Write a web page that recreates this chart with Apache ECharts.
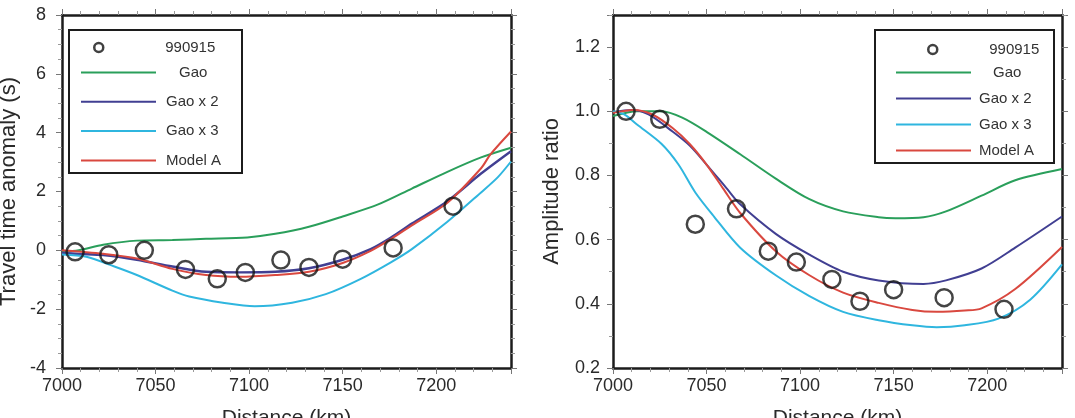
<!DOCTYPE html>
<html>
<head>
<meta charset="utf-8">
<script src="https://cdn.jsdelivr.net/npm/echarts@6/dist/echarts.min.js"></script>
<style>
  html, body { margin: 0; padding: 0; background: #fff; }
  #chart { width: 1075px; height: 418px; }
</style>
</head>
<body>
<div id="chart"></div>
<script>
  // observed points (990915), same distances in both panels
  const obsX = [7007, 7025, 7044, 7066, 7083, 7098, 7117, 7132, 7150, 7177, 7209]
  const travelObs = [-0.05, -0.15, 0.0, -0.65, -0.97, -0.75, -0.33, -0.58, -0.3, 0.08, 1.5]
  const ampObs = [1.0, 0.975, 0.648, 0.696, 0.564, 0.53, 0.476, 0.408, 0.444, 0.419, 0.383]

  // travel time anomaly curves (left panel)
  const ttGaoX = [7000, 7009, 7022, 7040, 7059, 7077, 7099, 7114, 7132, 7150, 7169, 7187, 7206, 7224, 7240]
  const ttGaoY = [-0.05, 0, 0.19, 0.33, 0.35, 0.39, 0.44, 0.56, 0.8, 1.15, 1.56, 2.1, 2.67, 3.16, 3.49]
  const ttGao2X = [7000, 7009, 7022, 7040, 7059, 7077, 7095, 7114, 7132, 7150, 7165, 7176, 7187, 7206, 7224, 7240]
  const ttGao2Y = [-0.08, -0.12, -0.16, -0.32, -0.55, -0.73, -0.75, -0.73, -0.61, -0.32, 0.04, 0.44, 0.91, 1.67, 2.61, 3.37]
  const ttGao3X = [7000, 7013, 7028, 7040, 7059, 7068, 7086, 7103, 7123, 7141, 7160, 7176, 7187, 7206, 7224, 7233, 7240]
  const ttGao3Y = [-0.14, -0.22, -0.55, -0.84, -1.37, -1.57, -1.78, -1.9, -1.78, -1.49, -0.96, -0.4, 0.04, 0.97, 1.97, 2.49, 3.02]
  const ttModelX = [7000, 7022, 7040, 7059, 7077, 7095, 7114, 7132, 7150, 7165, 7176, 7187, 7206, 7224, 7229, 7240]
  const ttModelY = [0, -0.12, -0.28, -0.63, -0.84, -0.9, -0.84, -0.73, -0.43, -0.02, 0.39, 0.85, 1.62, 2.79, 3.26, 4.04]

  // amplitude ratio curves (right panel)
  const arGaoX = [7000, 7013, 7026, 7037, 7050, 7068, 7087, 7105, 7123, 7142, 7151, 7166, 7178, 7197, 7215, 7240]
  const arGaoY = [0.985, 1.0, 1.0, 0.98, 0.936, 0.866, 0.79, 0.726, 0.688, 0.67, 0.667, 0.67, 0.688, 0.737, 0.785, 0.82]
  const arGao2X = [7000, 7010, 7019, 7032, 7041, 7050, 7061, 7068, 7087, 7105, 7123, 7142, 7166, 7178, 7197, 7215, 7240]
  const arGao2Y = [0.997, 1.004, 0.99, 0.936, 0.893, 0.834, 0.758, 0.71, 0.618, 0.553, 0.5, 0.473, 0.462, 0.473, 0.51, 0.575, 0.672]
  const arGao3X = [7000, 7006, 7013, 7026, 7035, 7044, 7054, 7068, 7087, 7105, 7123, 7142, 7160, 7173, 7188, 7206, 7223, 7240]
  const arGao3Y = [1.0, 0.99, 0.958, 0.898, 0.834, 0.747, 0.672, 0.575, 0.489, 0.424, 0.375, 0.349, 0.333, 0.327, 0.333, 0.354, 0.413, 0.523]
  const arModelX = [7000, 7011, 7021, 7032, 7041, 7050, 7059, 7068, 7087, 7105, 7123, 7142, 7160, 7173, 7188, 7197, 7215, 7240]
  const arModelY = [0.995, 1.004, 0.99, 0.947, 0.898, 0.834, 0.758, 0.683, 0.564, 0.489, 0.435, 0.403, 0.381, 0.375, 0.379, 0.386, 0.446, 0.577]

  const lineNames = ['Gao', 'Gao x 2', 'Gao x 3', 'Model A']
  const obsName = '990915'

  const colors = {
    'Gao': '#2a9f5b',
    'Gao x 2': '#413f92',
    'Gao x 3': '#2fb6df',
    'Model A': '#d9483f'
  }
  const font = 'Liberation Sans, Arial, sans-serif'
  const frame = '#1c1c1c'

  const zip = (xs, ys) => xs.map((x, i) => [x, ys[i]])

  function xAxes(grid) {
    const base = {
      type: 'value', gridIndex: grid, min: 7000, max: 7240, interval: 50,
      axisLine: { show: true, onZero: false, lineStyle: { color: frame, width: 2.5 } },
      axisTick: { show: true, length: 6, lineStyle: { color: '#777', width: 1 } },
      minorTick: { show: true, splitNumber: 5, length: 4, lineStyle: { color: '#999' } },
      splitLine: { show: false }
    }
    return [
      Object.assign({}, base, {
        position: 'bottom',
        name: 'Distance (km)', nameLocation: 'middle', nameGap: 40,
        nameTextStyle: { fontSize: 21, color: '#2a2a2a', fontFamily: font },
        axisLabel: { fontSize: 18, color: '#2a2a2a', fontFamily: font, margin: 9, showMaxLabel: false, formatter: v => String(v) }
      }),
      Object.assign({}, base, { position: 'top', axisLabel: { show: false } })
    ]
  }

  function yAxes(grid, min, max, interval, minorSplit, name, nameGap, labelMargin, fmt) {
    const base = {
      type: 'value', gridIndex: grid, min: min, max: max, interval: interval,
      axisLine: { show: true, onZero: false, lineStyle: { color: frame, width: 2.5 } },
      axisTick: { show: true, length: 6, lineStyle: { color: '#777', width: 1 } },
      minorTick: { show: true, splitNumber: minorSplit, length: 4, lineStyle: { color: '#999' } },
      splitLine: { show: false }
    }
    return [
      Object.assign({}, base, {
        position: 'left',
        name: name, nameLocation: 'middle', nameGap: nameGap,
        nameTextStyle: { fontSize: 22, color: '#2a2a2a', fontFamily: font },
        axisLabel: { fontSize: 18, color: '#2a2a2a', fontFamily: font, margin: labelMargin, showMaxLabel: min === -4, formatter: fmt }
      }),
      Object.assign({}, base, { position: 'right', axisLabel: { show: false } })
    ]
  }

  function lineSeries(name, data, xi, yi, width) {
    return {
      name: name, type: 'line', xAxisIndex: xi, yAxisIndex: yi,
      data: data, showSymbol: false, symbol: 'none',
      smooth: 0.3,
      lineStyle: { color: colors[name], width: width || 2 },
      itemStyle: { color: colors[name] },
      z: 3
    }
  }

  function obsSeries(data, xi, yi) {
    return {
      name: obsName, type: 'scatter', xAxisIndex: xi, yAxisIndex: yi,
      data: data, symbol: 'circle', symbolSize: 17,
      itemStyle: { color: 'rgba(255,255,255,0)', borderColor: '#151515', borderWidth: 2.5 },
      z: 5
    }
  }

  function legends(obsLeft, obsTop, obsPad, lineLeft, lineTop, gap, gaoPad, textPad) {
    return [{
      orient: 'vertical', left: obsLeft, top: obsTop, padding: 0,
      itemWidth: 9, itemHeight: 9, selectedMode: false, z: 10,
      data: [{ name: obsName, icon: 'circle', itemStyle: { color: 'rgba(255,255,255,0)', borderColor: '#111', borderWidth: 2.5 } }],
      textStyle: { fontSize: 15, color: '#333', fontFamily: font, padding: [0, 0, 0, obsPad] }
    }, {
      orient: 'vertical', left: lineLeft, top: lineTop, padding: 0,
      itemWidth: 75, itemHeight: 14, itemGap: gap, selectedMode: false, z: 10,
      data: lineNames.map(n => ({
        name: n,
        itemStyle: { opacity: 0 },
        textStyle: { padding: [0, 0, 0, n === 'Gao' ? gaoPad : textPad] }
      })),
      textStyle: { fontSize: 15, color: '#333', fontFamily: font }
    }]
  }

  const chart = echarts.init(document.getElementById('chart'))

  chart.setOption({
    backgroundColor: '#fff',
    animation: false,
    grid: [
      { left: 62, top: 15, width: 449, height: 353, outerBoundsMode: 'none', containLabel: false },
      { left: 613, top: 15, width: 449, height: 353, outerBoundsMode: 'none', containLabel: false }
    ],
    xAxis: xAxes(0).concat(xAxes(1)),
    yAxis: yAxes(0, -4, 8, 2, 4, 'Travel time anomaly (s)', 42, 16, v => String(v))
      .concat(yAxes(1, 0.2, 1.3, 0.2, 2, 'Amplitude ratio', 50, 13, v => v.toFixed(1))),
    legend: legends(93, 40, 57, 80, 65, 14.3, 18, 5)
      .concat(legends(927, 42, 47, 895, 65, 11, 17, 3)),
    graphic: [
      { type: 'rect', z: 8, shape: { x: 69, y: 30, width: 173, height: 143 }, style: { fill: '#fff', stroke: frame, lineWidth: 2 } },
      { type: 'rect', z: 8, shape: { x: 875, y: 30, width: 179, height: 133 }, style: { fill: '#fff', stroke: frame, lineWidth: 2 } }
    ],
    series: [
      lineSeries('Gao', zip(ttGaoX, ttGaoY), 0, 0),
      lineSeries('Gao x 2', zip(ttGao2X, ttGao2Y), 0, 0, 2.4),
      lineSeries('Gao x 3', zip(ttGao3X, ttGao3Y), 0, 0),
      lineSeries('Model A', zip(ttModelX, ttModelY), 0, 0),
      obsSeries(zip(obsX, travelObs), 0, 0),
      lineSeries('Gao', zip(arGaoX, arGaoY), 2, 2),
      lineSeries('Gao x 2', zip(arGao2X, arGao2Y), 2, 2),
      lineSeries('Gao x 3', zip(arGao3X, arGao3Y), 2, 2),
      lineSeries('Model A', zip(arModelX, arModelY), 2, 2),
      obsSeries(zip(obsX, ampObs), 2, 2)
    ]
  })
</script>
</body>
</html>
